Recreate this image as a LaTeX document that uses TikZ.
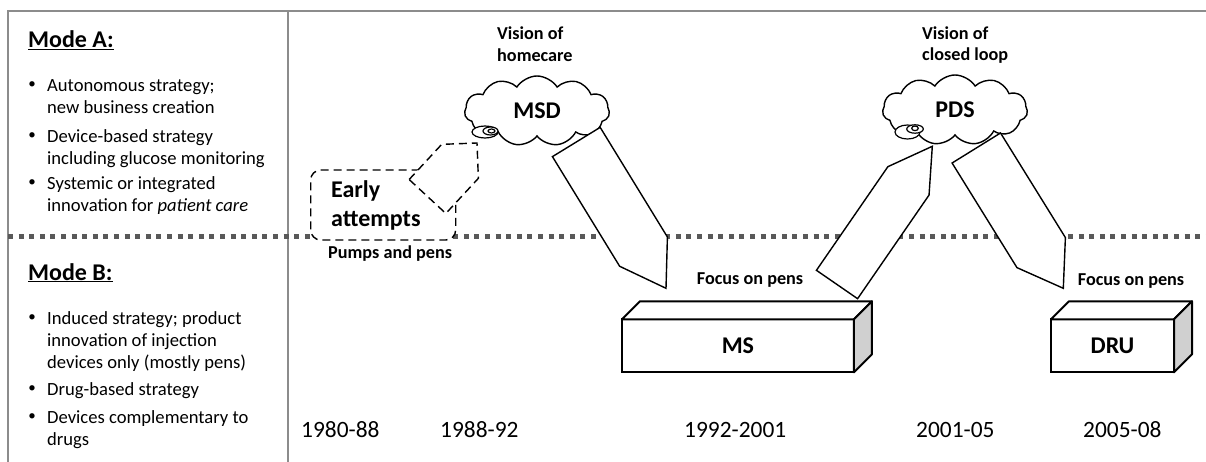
\documentclass[tikz,border=0pt]{standalone}
\usepackage{fontspec}
\setmainfont{Carlito}
\usepackage{tikz}
\usetikzlibrary{
  positioning,
  calc,
  shapes.symbols
}
\definecolor{mdFrame}{HTML}{8C8C8C}
\definecolor{mdSep}{HTML}{595959}
\definecolor{mdSide}{HTML}{D0D0D0}
\tikzset{
  frameline/.style={draw=mdFrame, line width=2pt},
  modesep/.style={draw=mdSep, line width=5pt, dash pattern=on 5pt off 5.6pt},
  modehead/.style={anchor=base west, inner sep=0pt, font=\fontsize{24}{29}\selectfont\bfseries},
  itemtxt/.style={anchor=base west, inner sep=0pt, align=left, font=\fontsize{18.6}{22}\selectfont},
  bulletmark/.style={anchor=base, inner sep=0pt, font=\fontsize{15}{18}\selectfont},
  smalllbl/.style={anchor=base west, inner sep=0pt, align=left, font=\fontsize{18.2}{21.7}\selectfont\bfseries},
  yearlbl/.style={anchor=base west, inner sep=0pt, font=\fontsize{23.4}{28}\selectfont},
  vision/.style={
    cloud, cloud puffs=11, cloud puff arc=115, cloud ignores aspect,
    draw, fill=white, line width=1.4pt, inner sep=0pt,
    minimum width=145pt, minimum height=70pt,
    font=\fontsize{24}{29}\selectfont\bfseries
  },
  bubble/.style={draw, fill=white, line width=1.2pt},
  earlybox/.style={
    draw, line width=1.4pt, dash pattern=on 8pt off 5pt, rounded corners=10pt,
    fill=white, minimum width=145pt, minimum height=70pt, text width=104pt,
    inner xsep=0pt, inner ysep=0pt, align=left,
    font=\fontsize{24}{29}\selectfont\bfseries
  },
  penarrow/.style={draw, fill=white, line width=1.4pt, line join=miter},
  pendash/.style={penarrow, dash pattern=on 8pt off 5pt},
  box3d/.style={
    draw, fill=white, line width=2pt, outer sep=0pt, minimum height=53pt,
    font=\fontsize{24}{29}\selectfont\bfseries
  },
  boxface/.style={draw, line width=2pt, line join=round}
}
% pentagon arrow: #2 base centre, #3 tip, #4 half width, #5 head length
\newcommand{\homeplate}[5][penarrow]{%
  \coordinate (hp-s) at ($(#3)!#5!(#2)$);
  \draw[#1] ($(#2)!#4!90:(#3)$) -- ($(hp-s)!#4!90:(#3)$) -- (#3)
    -- ($(hp-s)!#4!-90:(#3)$) -- ($(#2)!#4!-90:(#3)$) -- cycle;}

\begin{document}
\begin{tikzpicture}[x=1pt, y=-1pt, node distance=4pt]
  \useasboundingbox (0,0) rectangle (1206,462);
  % frame and mode separator
  \draw[frameline] (8,462) -- (8,11) -- (1206,11);
  \draw[frameline] (288,11) -- (288,462);
  \draw[modesep] (8,237) -- (1206,237);

  % left panel (items sit on the baseline of their last line)
  \node[modehead] (modeA) at (28,47.7) {\underline{Mode A:}};
  \node[itemtxt] (a1) at (47,113.5) {Autonomous strategy;\\new business creation};
  \node[itemtxt] (a2) at (47,164.5) {Device-based strategy\\including glucose monitoring};
  \node[itemtxt] (a3) at (47,212) {Systemic or integrated\\innovation for \textit{patient care}};
  \node[modehead] (modeB) at (28,280) {\underline{Mode B:}};
  \node[itemtxt] (b1) at (47,368.5) {Induced strategy; product\\innovation of injection\\devices only (mostly pens)};
  \node[itemtxt] (b2) at (47,395.5) {Drug-based strategy};
  \node[itemtxt] (b3) at (47,445.5) {Devices complementary to\\drugs};
  \foreach \y [count=\i] in {91.5,142.5,190,324.5,395.5,423.5}
    \node[bulletmark] (bul\i) at (32,\y-3) {\textbullet};

  % early attempts
  \node[earlybox] (early) at (383.2,205) {Early\\attempts};
  \coordinate (ea-s) at (427.5,196.5);
  \coordinate (ea-e) at (477,143);
  \homeplate[pendash]{ea-s}{ea-e}{25pt}{25pt}
  \node[smalllbl, below=5pt of early.south west, xshift=18pt, anchor=north west] (pumps) {Pumps and pens};

  % visions
  \node[vision] (msd) at (537,111) {MSD};
  \draw[bubble] (485,132) ellipse [x radius=13, y radius=6];
  \draw[bubble] (490.5,131) ellipse [x radius=7.5, y radius=4];
  \draw[bubble] (491.5,131) ellipse [x radius=3.5, y radius=2];
  \node[smalllbl] (visA) at (497,61.5) {Vision of\\homecare};

  \node[vision] (pds) at (955,110) {PDS};
  \draw[bubble] (907.5,132) ellipse [x radius=12.5, y radius=7];
  \draw[bubble] (915,129) ellipse [x radius=8.3, y radius=4.2];
  \draw[bubble] (915,128.3) ellipse [x radius=3.3, y radius=2.3];
  \node[smalllbl] (visB) at (922,61) {Vision of\\closed loop};

  % units
  \node[box3d, minimum width=232pt] (ms) at (737.9,345.8) {MS};
  \node[box3d, minimum width=123pt] (dru) at (1112.5,345.8) {DRU};
  \foreach \b in {ms,dru} {
    \draw[boxface, fill=white] (\b.north west) -- ++(18,-18)
      -- ($(\b.north east)+(18,-18)$) -- (\b.north east) -- cycle;
    \draw[boxface, fill=mdSide] (\b.north east) -- ++(18,-18)
      -- ($(\b.south east)+(18,-18)$) -- (\b.south east) -- cycle;
  }
  \node[smalllbl] (focA) at (696.7,284.3) {Focus on pens};
  \node[smalllbl] (focB) at (1077.7,285) {Focus on pens};

  % transitions
  \coordinate (msd-out) at (576.3,142);
  \coordinate (ms-in) at (666,288.3);
  \coordinate (ms-out) at (837,284.5);
  \coordinate (pds-in) at (932.3,146.3);
  \coordinate (pds-out) at (976.3,148);
  \coordinate (dru-in) at (1063.3,288.3);
  \homeplate{msd-out}{ms-in}{28pt}{43pt}
  \homeplate{ms-out}{pds-in}{25pt}{42pt}
  \homeplate{pds-out}{dru-in}{28.5pt}{42pt}

  % periods
  \node[yearlbl] (y1) at (301,437.3) {1980-88};
  \node[yearlbl] (y2) at (440,437.3) {1988-92};
  \node[yearlbl] (y3) at (684,437.3) {1992-2001};
  \node[yearlbl] (y4) at (916,437.3) {2001-05};
  \node[yearlbl] (y5) at (1083,437.3) {2005-08};
\end{tikzpicture}
\end{document}
